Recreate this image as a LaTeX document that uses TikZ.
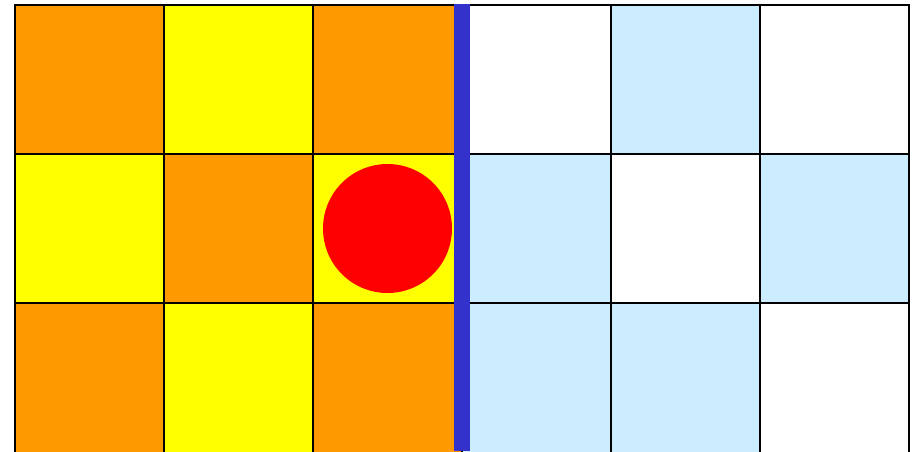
\documentclass[tikz,border=0pt]{standalone}
\usepackage{tikz}
\definecolor{orng}{HTML}{FF9900}
\definecolor{yllw}{HTML}{FFFF00}
\definecolor{skyb}{HTML}{CCECFF}
\definecolor{wallb}{HTML}{3333CC}
\tikzset{
  cell/.style   ={draw=black,line width=1pt},
  wall/.style   ={fill=wallb,draw=none},
  ball/.style   ={circle,fill=red,draw=none,minimum size=64.5pt,inner sep=0pt},
}
\begin{document}
\begin{tikzpicture}[x=0.5pt,y=-0.5pt]
  \useasboundingbox (0,0) rectangle (912,451);
  \clip (0,0) rectangle (912,451);
  % left board
  \foreach \c/\r/\col in {0/0/orng,1/0/yllw,2/0/orng,
                          0/1/yllw,1/1/orng,2/1/yllw,
                          0/2/orng,1/2/yllw,2/2/orng}{
    \filldraw[cell,fill=\col] (15+149*\c,5+149*\r) rectangle ++(149,{\r==2 ? 154 : 149});}
  % right board
  \foreach \c/\r/\col in {0/0/white,1/0/skyb,2/0/white,
                          0/1/skyb,1/1/white,2/1/skyb,
                          0/2/skyb,1/2/skyb,2/2/white}{
    \filldraw[cell,fill=\col] (462+149*\c,5+149*\r) rectangle ++(149,{\r==2 ? 154 : 149});}
  \fill[wall] (454,4) rectangle (470,451);
  \node[ball] (b) at (387.5,228.5) {};
\end{tikzpicture}
\end{document}
